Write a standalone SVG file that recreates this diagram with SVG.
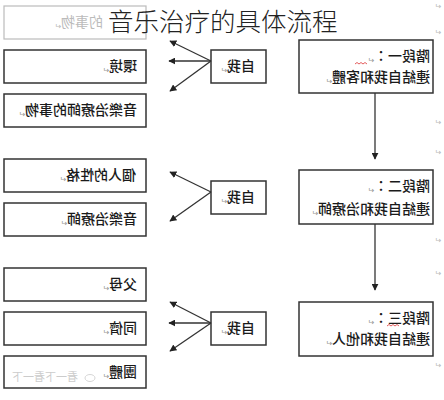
<svg xmlns="http://www.w3.org/2000/svg" width="444" height="400" viewBox="0 0 444 400">
<style>
.box{fill:#fff;stroke:#333;stroke-width:1.5}
.faint{fill:#fff;stroke:#bbb;stroke-width:1.2}
.t{font-family:"Noto Sans CJK TC","Noto Sans CJK SC",sans-serif;font-size:14px;font-weight:500;fill:#1a1a1a}
.ft{font-family:"Noto Sans CJK TC",sans-serif;font-size:14px;fill:#bbb}
.rm{font-family:"DejaVu Sans",sans-serif;font-size:8px;font-weight:400;fill:#999}
.pm{font-family:"DejaVu Sans",sans-serif;font-size:8px;fill:#bbb}
.title{font-family:"Noto Sans CJK SC",sans-serif;font-size:25.5px;font-weight:300;fill:#222}
.ln{stroke:#333;stroke-width:1.3;fill:none}
.sq{stroke:#d33;stroke-width:0.8;fill:none}
</style>
<defs>
<marker id="ah" viewBox="0 0 10 10" refX="9" refY="5" markerWidth="7" markerHeight="7" orient="auto" markerUnits="userSpaceOnUse">
<path d="M0,0 L10,5 L0,10 z" fill="#222"/>
</marker>
</defs>
<rect width="444" height="400" fill="#fff"/>

<!-- group 1 left -->
<g id="n-things">
<rect class="faint" x="4" y="6" width="142" height="33"/>
<g transform="scale(-1,1)"><text class="ft" x="-103" y="27">的事物<tspan class="pm" dy="2">↵</tspan></text></g>
</g>
<g id="n-env">
<rect class="box" x="4" y="50" width="142" height="33"/>
<g transform="scale(-1,1)"><text class="t" x="-137" y="71">環境<tspan class="rm" dy="2">↵</tspan></text></g>
</g>
<g id="n-therapist-things">
<rect class="box" x="4" y="94" width="142" height="33"/>
<g transform="scale(-1,1)"><text class="t" x="-137" y="115">音樂治療師的事物<tspan class="rm" dy="2">↵</tspan></text></g>
</g>
<g id="n-self1">
<rect class="box" x="211" y="50" width="55" height="33"/>
<g transform="scale(-1,1)"><text class="t" x="-255" y="71">自我<tspan class="rm" dy="2">↵</tspan></text></g>
</g>

<!-- group 2 left -->
<g id="n-personality">
<rect class="box" x="4" y="159" width="142" height="33"/>
<g transform="scale(-1,1)"><text class="t" x="-136" y="180">個人的性格<tspan class="rm" dy="2">↵</tspan></text></g>
</g>
<g id="n-therapist">
<rect class="box" x="4" y="203" width="142" height="33"/>
<g transform="scale(-1,1)"><text class="t" x="-137" y="224">音樂治療師<tspan class="rm" dy="2">↵</tspan></text></g>
</g>
<g id="n-self2">
<rect class="box" x="211" y="181" width="55" height="33"/>
<g transform="scale(-1,1)"><text class="t" x="-255" y="202">自我<tspan class="rm" dy="2">↵</tspan></text></g>
</g>

<!-- group 3 left -->
<g id="n-parents">
<rect class="box" x="4" y="268" width="142" height="33"/>
<g transform="scale(-1,1)"><text class="t" x="-137" y="289">父母<tspan class="rm" dy="2">↵</tspan></text></g>
</g>
<g id="n-peers">
<rect class="box" x="4" y="312" width="142" height="33"/>
<g transform="scale(-1,1)"><text class="t" x="-137" y="333">同儕<tspan class="rm" dy="2">↵</tspan></text></g>
</g>
<g id="n-group">
<rect class="box" x="4" y="356" width="142" height="32"/>
<g transform="scale(-1,1)"><text class="t" x="-137" y="377">團體<tspan class="rm" dy="2">↵</tspan></text></g>
<g transform="scale(-1,1)"><text class="ft" x="-78" y="381" style="font-size:11px;fill:#ccc">看一下看一下</text></g>
<ellipse cx="90" cy="378" rx="5" ry="3.5" fill="none" stroke="#ccc" stroke-width="0.8"/>
</g>
<g id="n-self3">
<rect class="box" x="211" y="312" width="55" height="33"/>
<g transform="scale(-1,1)"><text class="t" x="-255" y="333">自我<tspan class="rm" dy="2">↵</tspan></text></g>
</g>

<!-- stages -->
<g id="n-stage1">
<rect class="box" x="299" y="40" width="134" height="53"/>
<g transform="scale(-1,1)">
<text class="t" x="-430" y="61">階段一：<tspan class="rm" dy="2">↵</tspan></text>
<text class="t" x="-430" y="82">連結自我和客體<tspan class="rm" dy="2">↵</tspan></text>
</g>
<path class="sq" d="M355,64 l2,-1.5 l2,1.5 l2,-1.5 l2,1.5 l2,-1.5 l2,1.5"/>
</g>
<g id="n-stage2">
<rect class="box" x="299" y="170" width="134" height="54"/>
<g transform="scale(-1,1)">
<text class="t" x="-430" y="191">階段二：<tspan class="rm" dy="2">↵</tspan></text>
<text class="t" x="-430" y="214">連結自我和治療師<tspan class="rm" dy="2">↵</tspan></text>
</g>
</g>
<g id="n-stage3">
<rect class="box" x="299" y="302" width="134" height="54"/>
<g transform="scale(-1,1)">
<text class="t" x="-430" y="323">階段三：<tspan class="rm" dy="2">↵</tspan></text>
<text class="t" x="-430" y="344">連結自我和他人<tspan class="rm" dy="2">↵</tspan></text>
</g>
<path class="sq" d="M387,326 l2,-1.5 l2,1.5 l2,-1.5 l2,1.5 l2,-1.5 l2,1.5"/>
</g>

<!-- connectors -->
<g id="connectors">
<line class="ln" x1="211" y1="61" x2="170" y2="41" marker-end="url(#ah)"/>
<line class="ln" x1="211" y1="61" x2="169" y2="61" marker-end="url(#ah)"/>
<line class="ln" x1="211" y1="61" x2="170" y2="91" marker-end="url(#ah)"/>
<line class="ln" x1="211" y1="192" x2="170" y2="172" marker-end="url(#ah)"/>
<line class="ln" x1="211" y1="192" x2="170" y2="221" marker-end="url(#ah)"/>
<line class="ln" x1="211" y1="323" x2="170" y2="302" marker-end="url(#ah)"/>
<line class="ln" x1="211" y1="323" x2="169" y2="323" marker-end="url(#ah)"/>
<line class="ln" x1="211" y1="323" x2="170" y2="351" marker-end="url(#ah)"/>
<line class="ln" x1="375" y1="93" x2="375" y2="159" marker-end="url(#ah)"/>
<line class="ln" x1="375" y1="224" x2="375" y2="290" marker-end="url(#ah)"/>
</g>

<!-- paragraph marks at right margin -->
<g transform="scale(-1,1)">
<text class="pm" x="-441" y="9">↵</text>
<text class="pm" x="-441" y="35">↵</text>
<text class="pm" x="-441" y="125">↵</text>
<text class="pm" x="-441" y="155">↵</text>
<text class="pm" x="-441" y="243">↵</text>
<text class="pm" x="-441" y="276">↵</text>
<text class="pm" x="-441" y="368">↵</text>
</g>

<text class="title" x="108" y="31">音乐治疗的具体流程</text>
</svg>
